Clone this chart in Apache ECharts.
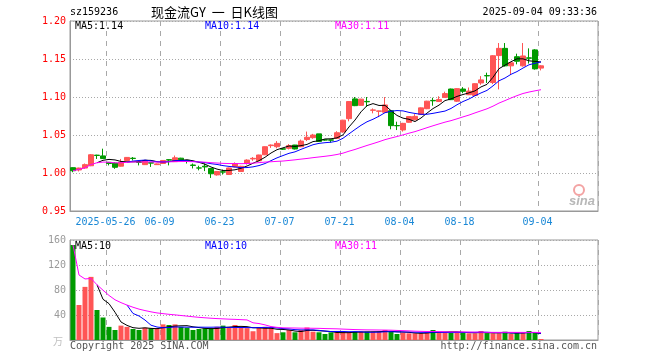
<!DOCTYPE html>
<html><head><meta charset="utf-8">
<script src="https://cdn.jsdelivr.net/npm/echarts@6/dist/echarts.min.js"></script>
<style>html,body{margin:0;padding:0;background:#fff}#c{width:660px;height:360px}</style>
</head><body><div id="c"></div>
<script>
const dates = [
'2025-05-16','2025-05-19','2025-05-20','2025-05-21','2025-05-22','2025-05-23','2025-05-26','2025-05-27','2025-05-28','2025-05-29','2025-05-30',
'2025-06-03','2025-06-04','2025-06-05','2025-06-06','2025-06-09','2025-06-10','2025-06-11','2025-06-12','2025-06-13',
'2025-06-16','2025-06-17','2025-06-18','2025-06-19','2025-06-20','2025-06-23','2025-06-24','2025-06-25','2025-06-26','2025-06-27','2025-06-30',
'2025-07-01','2025-07-02','2025-07-03','2025-07-04','2025-07-07','2025-07-08','2025-07-09','2025-07-10','2025-07-11',
'2025-07-14','2025-07-15','2025-07-16','2025-07-17','2025-07-18','2025-07-21','2025-07-22','2025-07-23','2025-07-24','2025-07-25',
'2025-07-28','2025-07-29','2025-07-30','2025-07-31','2025-08-01','2025-08-04','2025-08-05','2025-08-06','2025-08-07','2025-08-08',
'2025-08-11','2025-08-12','2025-08-13','2025-08-14','2025-08-15','2025-08-18','2025-08-19','2025-08-20','2025-08-21','2025-08-22',
'2025-08-25','2025-08-26','2025-08-27','2025-08-28','2025-08-29','2025-09-01','2025-09-02','2025-09-03','2025-09-04'];
const opens = [
1.0070,1.0040,1.0065,1.0095,1.0235,1.0225,1.0140,1.0130,1.0090,1.0165,
1.0195,1.0142,1.0110,1.0135,1.0110,1.0125,1.0175,1.0150,1.0195,1.0166,
1.0105,1.0067,1.0090,1.0060,0.9975,1.0015,0.9980,1.0080,1.0020,1.0125,
1.0185,1.0160,1.0240,1.0360,1.0346,1.0318,1.0325,1.0368,1.0346,1.0440,
1.0465,1.0515,1.0436,1.0436,1.0456,1.0540,1.0715,1.0975,1.0890,1.0942,
1.0825,1.0812,1.0800,1.0820,1.0625,1.0566,1.0667,1.0700,1.0770,1.0846,
1.0955,1.0940,1.0995,1.1105,1.0945,1.1105,1.1030,1.1020,1.1185,1.1282,
1.1190,1.1545,1.1640,1.1410,1.1530,1.1410,1.1515,1.1620,1.1380];
const closes = [
1.0030,1.0065,1.0110,1.0240,1.0230,1.0190,1.0125,1.0075,1.0140,1.0205,
1.0190,1.0140,1.0165,1.0130,1.0120,1.0165,1.0170,1.0200,1.0175,1.0160,
1.0100,1.0065,1.0080,0.9990,1.0020,1.0012,1.0066,1.0123,1.0088,1.0170,
1.0193,1.0237,1.0346,1.0368,1.0390,1.0314,1.0360,1.0316,1.0420,1.0470,
1.0500,1.0415,1.0434,1.0432,1.0530,1.0695,1.0940,1.0886,1.0972,1.0937,
1.0830,1.0817,1.0895,1.0623,1.0621,1.0653,1.0742,1.0745,1.0857,1.0945,
1.0950,1.0968,1.1045,1.0965,1.1110,1.1075,1.1078,1.1175,1.1225,1.1278,
1.1543,1.1640,1.1410,1.1450,1.1470,1.1540,1.1510,1.1370,1.1410];
const highs = [
1.0075,1.0070,1.0125,1.0250,1.0240,1.0320,1.0145,1.0140,1.0185,1.0210,
1.0210,1.0145,1.0170,1.0137,1.0125,1.0170,1.0180,1.0230,1.0200,1.0170,
1.0125,1.0095,1.0125,1.0065,1.0025,1.0045,1.0070,1.0140,1.0095,1.0180,
1.0210,1.0240,1.0350,1.0375,1.0420,1.0325,1.0380,1.0370,1.0440,1.0545,
1.0515,1.0515,1.0436,1.0436,1.0550,1.0700,1.0945,1.1000,1.0975,1.1000,
1.0850,1.0820,1.1000,1.0825,1.0675,1.0660,1.0745,1.0775,1.0862,1.0950,
1.0990,1.1010,1.1070,1.1110,1.1115,1.1130,1.1125,1.1180,1.1275,1.1320,
1.1550,1.1710,1.1710,1.1460,1.1570,1.1710,1.1640,1.1630,1.1420];
const lows = [
1.0010,1.0020,1.0055,1.0090,1.0185,1.0185,1.0100,1.0055,1.0085,1.0160,
1.0165,1.0100,1.0105,1.0080,1.0105,1.0120,1.0100,1.0145,1.0170,1.0125,
1.0060,1.0035,1.0025,0.9935,0.9965,0.9980,0.9975,1.0075,1.0015,1.0110,
1.0160,1.0155,1.0235,1.0330,1.0325,1.0305,1.0310,1.0310,1.0340,1.0420,
1.0450,1.0415,1.0425,1.0400,1.0450,1.0530,1.0680,1.0880,1.0885,1.0870,
1.0785,1.0735,1.0795,1.0575,1.0565,1.0545,1.0660,1.0695,1.0765,1.0840,
1.0885,1.0935,1.0990,1.0960,1.0935,1.1050,1.1025,1.1015,1.1160,1.1185,
1.1170,1.1100,1.1400,1.1290,1.1430,1.1400,1.1440,1.1360,1.1350];
const volumes = [
152,56,85,101,48,36,21,16,23,21,
17.6,16,19.7,18.7,18.7,25,24,25,21,19.7,
16,17.6,18.7,18.7,21,23,21,24,20,19,
14,20,21,20,11,12.3,16,12.3,16,20,
13.3,12.3,9.6,12.3,12.3,12.3,12.3,13.3,13.3,13.3,
13.3,13.3,16,13.3,9.6,11.7,10.7,10.7,10.7,12.3,
16,12.3,12.3,12.3,12.3,11.7,10.7,10.7,14.4,11,
10.7,10.7,13.3,9.6,11.7,11.7,14.4,11.7,1.6];
const labelDates = ['2025-05-26','2025-06-09','2025-06-23','2025-07-07','2025-07-21','2025-08-04','2025-08-18','2025-09-04'];
const padSlots = 9;
const priceMin = 0.95, priceMax = 1.20, priceStep = 0.05;
const volMin = 0, volMax = 160, volStep = 40;
const priceLegend = ['MA5:1.14','MA10:1.14','MA30:1.11'];
const volLegend = ['MA5:10','MA10:10','MA30:11'];

const UP = '#ff5555', DOWN = '#009a00';
const cats = dates.concat(Array.from({length: padSlots}, (_, k) => '_pad' + k));
function ma(arr, n, partial) {
  return arr.map((v, i) => {
    if (i < n - 1 && !partial) return '-';
    const s = arr.slice(Math.max(0, i - n + 1), i + 1);
    return +(s.reduce((a, b) => a + b, 0) / s.length).toFixed(5);
  });
}
const isUp = dates.map((d, i) => closes[i] > opens[i] || (closes[i] === opens[i] && i > 0 && closes[i] >= closes[i - 1]));
const kData = dates.map((d, i) => [opens[i], closes[i], lows[i], highs[i]]);
const volData = volumes.map((v, i) => ({ value: v, itemStyle: { color: isUp[i] ? UP : DOWN } }));
const showIdx = (idx, val) => labelDates.indexOf(val) >= 0;
const MONO = '"DejaVu Sans Mono", "Liberation Mono", monospace';
const gridLine = { show: true, lineStyle: { color: '#a8a8a8', type: [1, 2], width: 1 } };
const vLine = { show: true, interval: showIdx, lineStyle: { color: '#a8a8a8', type: [5, 5], width: 1 } };

function lineS(name, data, color, xi, yi) {
  return { name, type: 'line', data, xAxisIndex: xi, yAxisIndex: yi, symbol: 'none', showSymbol: false,
    lineStyle: { color, width: 1 }, itemStyle: { color }, animation: false, silent: true, z: 3 };
}
function txt(x, y, text, fill, font, align) {
  return { type: 'text', x, y, silent: true, z: 100,
    style: { text, fill, font, align: align || 'left', verticalAlign: 'middle', textAlign: align || 'left', textVerticalAlign: 'middle' } };
}

const chart = echarts.init(document.getElementById('c'), null, { renderer: 'canvas' });
chart.setOption({
  animation: false,
  backgroundColor: '#fff',
  grid: [
    { left: 70, right: 62, top: 21, height: 190, show: true, borderColor: '#999', borderWidth: 1, backgroundColor: 'transparent' },
    { left: 70, right: 62, top: 240, height: 100, show: true, borderColor: '#999', borderWidth: 1, backgroundColor: 'transparent' }
  ],
  xAxis: [
    { type: 'category', gridIndex: 0, data: cats, boundaryGap: true,
      axisLine: { show: true, lineStyle: { color: '#999' } }, axisTick: { show: false },
      axisLabel: { interval: showIdx, color: '#1a88d6', fontFamily: MONO, fontSize: 10, margin: 6, padding: [0, 7, 0, 0],
        formatter: v => v === labelDates[0] ? v : v.slice(5) },
      splitLine: vLine },
    { type: 'category', gridIndex: 1, data: cats, boundaryGap: true,
      axisLine: { show: true, lineStyle: { color: '#999' } }, axisTick: { show: false },
      axisLabel: { show: false, interval: showIdx }, splitLine: vLine }
  ],
  yAxis: [
    { type: 'value', gridIndex: 0, min: priceMin, max: priceMax, interval: priceStep, scale: true,
      axisLine: { show: true, lineStyle: { color: '#999' } }, axisTick: { show: false },
      axisLabel: { color: '#ff0000', fontFamily: MONO, fontSize: 10, margin: 4, formatter: v => v.toFixed(2) },
      splitLine: gridLine },
    { type: 'value', gridIndex: 1, min: volMin, max: volMax, interval: volStep,
      axisLine: { show: true, lineStyle: { color: '#999' } }, axisTick: { show: false },
      axisLabel: { color: '#9a9a9a', fontFamily: MONO, fontSize: 10, margin: 4, formatter: v => v === 0 ? '' : String(v) },
      splitLine: gridLine }
  ],
  series: [
    { name: 'K', type: 'candlestick', data: kData, xAxisIndex: 0, yAxisIndex: 0, barWidth: 5,
      itemStyle: { color: UP, color0: DOWN, borderColor: UP, borderColor0: DOWN, borderWidth: 1 }, z: 2 },
    lineS('MA5', ma(closes, 5, false), '#000000', 0, 0),
    lineS('MA10', ma(closes, 10, false), '#0000ff', 0, 0),
    lineS('MA30', ma(closes, 30, true), '#ff00ff', 0, 0),
    { name: 'VOL', type: 'bar', data: volData, xAxisIndex: 1, yAxisIndex: 1, barWidth: 5, z: 2 },
    lineS('VMA5', ma(volumes, 5, false), '#000000', 1, 1),
    lineS('VMA10', ma(volumes, 10, false), '#0000ff', 1, 1),
    lineS('VMA30', ma(volumes, 30, true), '#ff00ff', 1, 1)
  ],
  graphic: [
    txt(70, 12.5, 'sz159236', '#000', '10px ' + MONO),
    txt(151, 12, '现金流GY  一  日K线图', '#000', '13px "Noto Sans CJK SC"', 'left'),
    txt(597, 12.5, '2025-09-04 09:33:36', '#000', '10px ' + MONO, 'right'),
    txt(75, 26.5, priceLegend[0], '#000', '10px ' + MONO),
    txt(205, 26.5, priceLegend[1], '#0000ff', '10px ' + MONO),
    txt(335, 26.5, priceLegend[2], '#ff00ff', '10px ' + MONO),
    txt(75, 246.5, volLegend[0], '#000', '10px ' + MONO),
    txt(205, 246.5, volLegend[1], '#0000ff', '10px ' + MONO),
    txt(335, 246.5, volLegend[2], '#ff00ff', '10px ' + MONO),
    txt(70, 346, 'Copyright 2025 SINA.COM', '#555', '10px ' + MONO),
    txt(597, 346, 'http://finance.sina.com.cn', '#555', '10px ' + MONO, 'right'),
    txt(63, 341, '万', '#c0c0c0', '10px "Noto Sans CJK SC"', 'right'),
    { type: 'circle', shape: { cx: 579, cy: 190, r: 5 }, silent: true, z: 50,
      style: { fill: 'rgba(255,255,255,0)', stroke: '#f3a3a3', lineWidth: 2 } },
    txt(582, 201, 'sina', '#b8b8b8', 'italic bold 13px "Liberation Sans"', 'center')
  ]
});
</script></body></html>
